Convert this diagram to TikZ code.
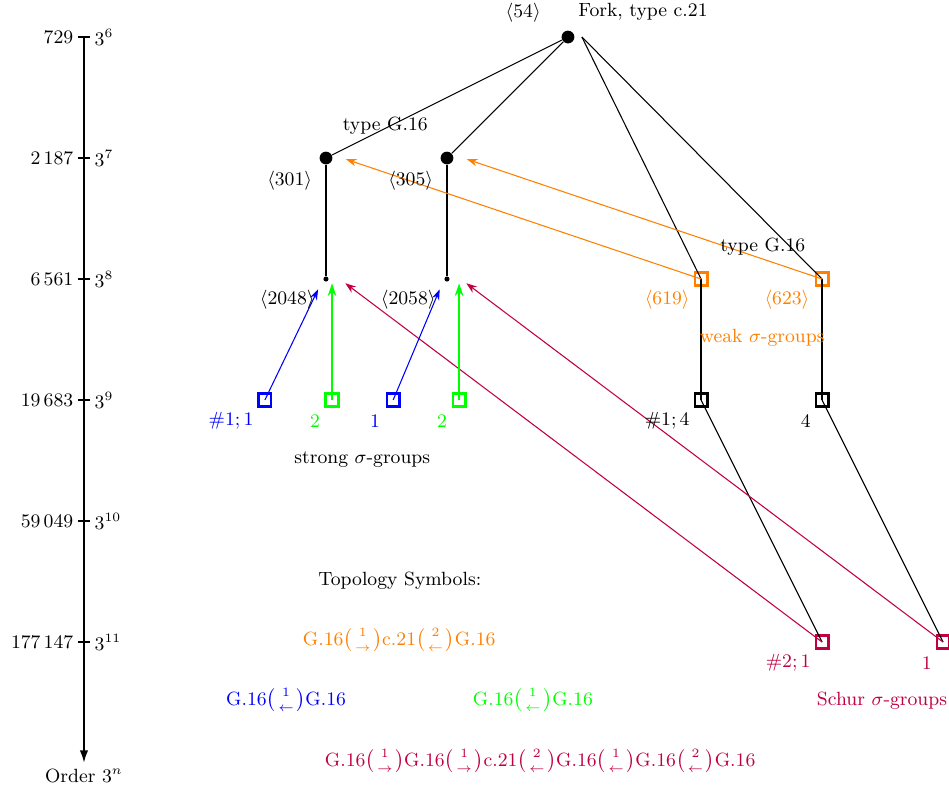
\documentclass[tikz,border=0pt]{standalone}
\usepackage{amsmath}
\usepackage{amssymb}
\usetikzlibrary{arrows.meta,positioning,calc}
\definecolor{weakorange}{RGB}{255,128,0}
\definecolor{schurred}{RGB}{192,0,64}
\newcommand{\tsym}[2]{\bigl(\genfrac{}{}{0pt}{}{#1}{#2}\bigr)}

\begin{document}
\begin{tikzpicture}[
  every node/.style={font=\small, inner sep=2pt},
  axisline/.style={line width=1pt, -{Latex[length=6pt,width=4pt]}},
  bigvert/.style={circle, fill, inner sep=0pt, minimum size=6pt},
  smallvert/.style={circle, fill, inner sep=0pt, minimum size=2.4pt},
  sq/.style={draw, line width=1.1pt, inner sep=0pt, minimum size=6pt},
  edge/.style={line width=0.5pt},
  stem/.style={line width=1.2pt},
  parent/.style={line width=0.5pt, -{Stealth[length=5pt,width=3.5pt]}},
  greenparent/.style={line width=1.2pt, green, -{Stealth[length=6pt,width=4pt]}}
]
\useasboundingbox (-1.388,0.612) rectangle (14.298,-12.397);

% order axis
\draw[axisline] (0,0) -- (0,-12);
\foreach \e/\num [count=\i from 0] in {6/729,7/2\,187,8/6\,561,9/19\,683,10/59\,049,11/177\,147} {
  \draw[line width=0.8pt] (-0.1,-2*\i) -- (0.1,-2*\i);
  \node[anchor=east] (n\e) at (-0.1,-2*\i) {\num};
  \node[anchor=west] (p\e) at (0.1,-2*\i) {$3^{\e}$};
}
\node[below=0.02cm] (ord) at (0,-12) {Order $3^n$};

% vertices
\node[bigvert] (root) at (8,0) {};
\coordinate (fork) at (8.23,0);
\node[bigvert] (a301) at (4,-2) {};
\node[bigvert] (a305) at (6,-2) {};
\node[smallvert] (d2048) at (4,-4) {};
\node[smallvert] (d2058) at (6,-4) {};
\node[sq, weakorange] (w619) at (10.2,-4) {};
\node[sq, weakorange] (w623) at (12.2,-4) {};
\node[sq] (k1) at (10.2,-6) {};
\node[sq] (k2) at (12.2,-6) {};
\node[sq, blue] (s1) at (2.99,-6) {};
\node[sq, green] (g1) at (4.1,-6) {};
\node[sq, blue] (s2) at (5.11,-6) {};
\node[sq, green] (g2) at (6.2,-6) {};
\node[sq, schurred] (c1) at (12.2,-10) {};
\node[sq, schurred] (c2) at (14.2,-10) {};

% arrow heads
\coordinate (h301) at ($(a301)+(0.33,-0.02)$);
\coordinate (h305) at ($(a305)+(0.33,-0.02)$);
\coordinate (h2048) at ($(d2048)+(0.32,-0.07)$);
\coordinate (h2058) at ($(d2058)+(0.32,-0.07)$);
\coordinate (b2048) at ($(d2048)+(-0.13,-0.17)$);
\coordinate (b2058) at ($(d2058)+(-0.12,-0.17)$);
\coordinate (t2048) at ($(g1 |- d2048)+(0,-0.07)$);
\coordinate (t2058) at ($(g2 |- d2058)+(0,-0.07)$);

% tree
\draw[edge] (root) -- (a301);
\draw[edge] (root) -- (a305);
\draw[edge] (fork) -- (w619.center);
\draw[edge] (fork) -- (w623.center);
\draw[stem] (a301) -- (d2048);
\draw[stem] (a305) -- (d2058);
\draw[stem] (w619.center) -- (k1.center);
\draw[stem] (w623.center) -- (k2.center);
\draw[edge] (k1.center) -- (c1.center);
\draw[edge] (k2.center) -- (c2.center);

% parents
\draw[parent, weakorange] (w619.center) -- (h301);
\draw[parent, weakorange] (w623.center) -- (h305);
\draw[parent, schurred] (c1.center) -- (h2048);
\draw[parent, schurred] (c2.center) -- (h2058);
\draw[parent, blue] (s1.center) -- (b2048);
\draw[parent, blue] (s2.center) -- (b2058);
\draw[greenparent] (g1.center) -- (t2048);
\draw[greenparent] (g2.center) -- (t2058);

% labels
\node (l54) at (7.26,0.41) {$\langle 54\rangle$};
\node (lfork) at (9.24,0.41) {Fork, type c.21};
\node (ltype1) at (4.98,-1.47) {type G.16};
\node (l301) at (3.4,-2.38) {$\langle 301\rangle$};
\node (l305) at (5.4,-2.38) {$\langle 305\rangle$};
\node (l2048) at (3.36,-4.35) {$\langle 2048\rangle$};
\node (l2058) at (5.36,-4.35) {$\langle 2058\rangle$};
\node (ltype2) at (11.22,-3.47) {type G.16};
\node[weakorange] (l619) at (9.64,-4.35) {$\langle 619\rangle$};
\node[weakorange] (l623) at (11.62,-4.35) {$\langle 623\rangle$};
\node[weakorange] (lweak) at (11.21,-4.98) {weak $\sigma$-groups};
\node (lk1) at (9.64,-6.35) {\#1;\,4};
\node (lk2) at (11.93,-6.35) {4};
\node[blue] (ls1) at (2.43,-6.35) {\#1;\,1};
\node[green] (lg1) at (3.82,-6.35) {2};
\node[blue] (ls2) at (4.81,-6.35) {1};
\node[green] (lg2) at (5.92,-6.35) {2};
\node (lstrong) at (4.6,-6.98) {strong $\sigma$-groups};
\node[schurred] (lc1) at (11.64,-10.35) {\#2;\,1};
\node[schurred] (lc2) at (13.93,-10.35) {1};
\node[schurred] (lschur) at (13.19,-10.97) {Schur $\sigma$-groups};

% topology symbols
\node (ltop) at (5.22,-8.98) {Topology Symbols:};
\node[weakorange] (topw) at (5.21,-9.97) {G.16$\tsym{1}{\rightarrow}$c.21$\tsym{2}{\leftarrow}$G.16};
\node[blue] (tops) at (3.34,-10.96) {G.16$\tsym{1}{\leftarrow}$G.16};
\node[green] (topg) at (7.42,-10.96) {G.16$\tsym{1}{\leftarrow}$G.16};
\node[schurred] (topc) at (7.54,-11.97) {G.16$\tsym{1}{\rightarrow}$G.16$\tsym{1}{\rightarrow}$c.21$\tsym{2}{\leftarrow}$G.16$\tsym{1}{\leftarrow}$G.16$\tsym{2}{\leftarrow}$G.16};
\end{tikzpicture}
\end{document}
